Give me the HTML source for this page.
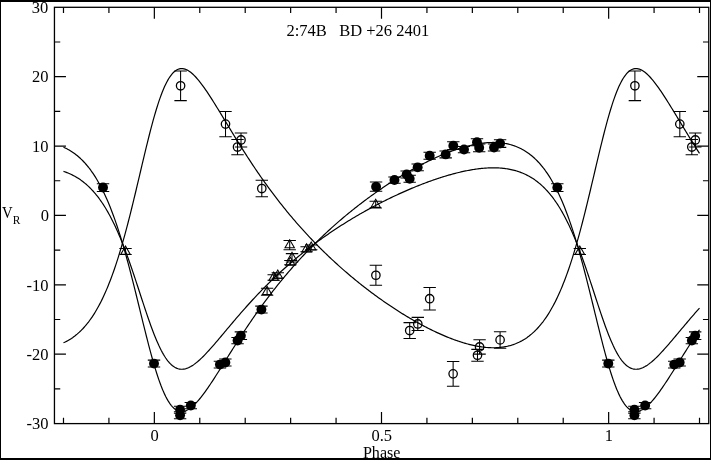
<!DOCTYPE html>
<html><head><meta charset="utf-8"><title>2:74B BD +26 2401</title>
<style>
html,body{margin:0;padding:0;background:#fff;}
body{width:711px;height:460px;position:relative;overflow:hidden;font-family:"Liberation Serif",serif;}
.b{position:absolute;background:#000;}
</style></head><body>
<svg width="711" height="460" viewBox="0 0 711 460" style="position:absolute;left:0;top:0">
<rect x="54.45" y="7.30" width="654.30" height="416.30" fill="none" stroke="#000" stroke-width="1.3"/>
<path d="M63.49,7.30 v5.80 M63.49,423.60 v-5.80 M108.92,7.30 v5.80 M108.92,423.60 v-5.80 M154.35,7.30 v11.50 M154.35,423.60 v-11.50 M199.78,7.30 v5.80 M199.78,423.60 v-5.80 M245.21,7.30 v5.80 M245.21,423.60 v-5.80 M290.64,7.30 v5.80 M290.64,423.60 v-5.80 M336.07,7.30 v5.80 M336.07,423.60 v-5.80 M381.50,7.30 v11.50 M381.50,423.60 v-11.50 M426.93,7.30 v5.80 M426.93,423.60 v-5.80 M472.36,7.30 v5.80 M472.36,423.60 v-5.80 M517.79,7.30 v5.80 M517.79,423.60 v-5.80 M563.22,7.30 v5.80 M563.22,423.60 v-5.80 M608.65,7.30 v11.50 M608.65,423.60 v-11.50 M654.08,7.30 v5.80 M654.08,423.60 v-5.80 M699.51,7.30 v5.80 M699.51,423.60 v-5.80 M54.45,388.90 h5.80 M708.75,388.90 h-5.80 M54.45,354.21 h11.50 M708.75,354.21 h-11.50 M54.45,319.52 h5.80 M708.75,319.52 h-5.80 M54.45,284.83 h11.50 M708.75,284.83 h-11.50 M54.45,250.14 h5.80 M708.75,250.14 h-5.80 M54.45,215.45 h11.50 M708.75,215.45 h-11.50 M54.45,180.76 h5.80 M708.75,180.76 h-5.80 M54.45,146.07 h11.50 M708.75,146.07 h-11.50 M54.45,111.38 h5.80 M708.75,111.38 h-5.80 M54.45,76.69 h11.50 M708.75,76.69 h-11.50 M54.45,42.00 h5.80 M708.75,42.00 h-5.80" stroke="#000" stroke-width="1.2" fill="none"/>
<path d="M63.49,147.22 L64.63,147.72 L65.76,148.26 L66.90,148.83 L68.03,149.43 L69.17,150.07 L70.30,150.74 L71.44,151.45 L72.58,152.19 L73.71,152.98 L74.85,153.80 L75.98,154.67 L77.12,155.57 L78.25,156.52 L79.39,157.52 L80.53,158.56 L81.66,159.65 L82.80,160.78 L83.93,161.97 L85.07,163.21 L86.20,164.50 L87.34,165.85 L88.48,167.25 L89.61,168.71 L90.75,170.23 L91.88,171.82 L93.02,173.46 L94.16,175.17 L95.29,176.94 L96.43,178.79 L97.56,180.70 L98.70,182.69 L99.83,184.74 L100.97,186.88 L102.11,189.09 L103.24,191.37 L104.38,193.74 L105.51,196.19 L106.65,198.73 L107.78,201.34 L108.92,204.05 L110.06,206.84 L111.19,209.71 L112.33,212.68 L113.46,215.74 L114.60,218.89 L115.73,222.13 L116.87,225.46 L118.01,228.89 L119.14,232.40 L120.28,236.01 L121.41,239.70 L122.55,243.49 L123.68,247.36 L124.82,251.31 L125.96,255.35 L127.09,259.47 L128.23,263.66 L129.36,267.93 L130.50,272.26 L131.63,276.66 L132.77,281.11 L133.91,285.61 L135.04,290.16 L136.18,294.74 L137.31,299.36 L138.45,303.99 L139.59,308.64 L140.72,313.29 L141.86,317.93 L142.99,322.56 L144.13,327.16 L145.26,331.73 L146.40,336.24 L147.54,340.70 L148.67,345.09 L149.81,349.41 L150.94,353.63 L152.08,357.75 L153.21,361.76 L154.35,365.66 L155.49,369.42 L156.62,373.05 L157.76,376.54 L158.89,379.88 L160.03,383.06 L161.16,386.08 L162.30,388.93 L163.44,391.62 L164.57,394.13 L165.71,396.47 L166.84,398.63 L167.98,400.62 L169.11,402.43 L170.25,404.07 L171.39,405.53 L172.52,406.83 L173.66,407.95 L174.79,408.92 L175.93,409.72 L177.06,410.37 L178.20,410.87 L179.34,411.22 L180.47,411.43 L181.61,411.50 L182.74,411.45 L183.88,411.27 L185.02,410.97 L186.15,410.56 L187.29,410.04 L188.42,409.42 L189.56,408.70 L190.69,407.90 L191.83,407.00 L192.97,406.03 L194.10,404.98 L195.24,403.86 L196.37,402.67 L197.51,401.42 L198.64,400.12 L199.78,398.76 L200.92,397.35 L202.05,395.90 L203.19,394.40 L204.32,392.87 L205.46,391.30 L206.59,389.70 L207.73,388.07 L208.87,386.41 L210.00,384.73 L211.14,383.03 L212.27,381.31 L213.41,379.57 L214.54,377.82 L215.68,376.05 L216.82,374.28 L217.95,372.49 L219.09,370.70 L220.22,368.90 L221.36,367.10 L222.50,365.29 L223.63,363.48 L224.77,361.67 L225.90,359.86 L227.04,358.05 L228.17,356.24 L229.31,354.43 L230.45,352.63 L231.58,350.83 L232.72,349.03 L233.85,347.24 L234.99,345.46 L236.12,343.68 L237.26,341.91 L238.40,340.15 L239.53,338.39 L240.67,336.64 L241.80,334.90 L242.94,333.17 L244.07,331.45 L245.21,329.74 L246.35,328.03 L247.48,326.34 L248.62,324.65 L249.75,322.98 L250.89,321.31 L252.02,319.66 L253.16,318.02 L254.30,316.38 L255.43,314.76 L256.57,313.14 L257.70,311.54 L258.84,309.95 L259.97,308.37 L261.11,306.80 L262.25,305.24 L263.38,303.69 L264.52,302.15 L265.65,300.62 L266.79,299.10 L267.93,297.59 L269.06,296.09 L270.20,294.61 L271.33,293.13 L272.47,291.66 L273.60,290.21 L274.74,288.76 L275.88,287.32 L277.01,285.90 L278.15,284.48 L279.28,283.08 L280.42,281.68 L281.55,280.30 L282.69,278.92 L283.83,277.55 L284.96,276.20 L286.10,274.85 L287.23,273.51 L288.37,272.19 L289.50,270.87 L290.64,269.56 L291.78,268.26 L292.91,266.97 L294.05,265.68 L295.18,264.41 L296.32,263.15 L297.45,261.89 L298.59,260.64 L299.73,259.40 L300.86,258.17 L302.00,256.95 L303.13,255.74 L304.27,254.53 L305.40,253.34 L306.54,252.15 L307.68,250.97 L308.81,249.80 L309.95,248.63 L311.08,247.48 L312.22,246.33 L313.36,245.19 L314.49,244.05 L315.63,242.93 L316.76,241.81 L317.90,240.70 L319.03,239.59 L320.17,238.50 L321.31,237.41 L322.44,236.33 L323.58,235.25 L324.71,234.19 L325.85,233.12 L326.98,232.07 L328.12,231.02 L329.26,229.98 L330.39,228.95 L331.53,227.92 L332.66,226.90 L333.80,225.89 L334.93,224.88 L336.07,223.88 L337.21,222.89 L338.34,221.90 L339.48,220.92 L340.61,219.94 L341.75,218.97 L342.88,218.01 L344.02,217.05 L345.16,216.10 L346.29,215.16 L347.43,214.22 L348.56,213.28 L349.70,212.36 L350.83,211.44 L351.97,210.52 L353.11,209.61 L354.24,208.71 L355.38,207.81 L356.51,206.91 L357.65,206.03 L358.78,205.15 L359.92,204.27 L361.06,203.40 L362.19,202.53 L363.33,201.67 L364.46,200.82 L365.60,199.97 L366.74,199.13 L367.87,198.29 L369.01,197.46 L370.14,196.63 L371.28,195.81 L372.41,194.99 L373.55,194.18 L374.69,193.37 L375.82,192.57 L376.96,191.78 L378.09,190.98 L379.23,190.20 L380.36,189.42 L381.50,188.64 L382.64,187.87 L383.77,187.11 L384.91,186.35 L386.04,185.59 L387.18,184.84 L388.31,184.10 L389.45,183.36 L390.59,182.62 L391.72,181.89 L392.86,181.17 L393.99,180.45 L395.13,179.74 L396.26,179.03 L397.40,178.32 L398.54,177.62 L399.67,176.93 L400.81,176.24 L401.94,175.56 L403.08,174.88 L404.22,174.20 L405.35,173.54 L406.49,172.87 L407.62,172.22 L408.76,171.56 L409.89,170.92 L411.03,170.27 L412.17,169.64 L413.30,169.01 L414.44,168.38 L415.57,167.76 L416.71,167.14 L417.84,166.53 L418.98,165.93 L420.12,165.33 L421.25,164.74 L422.39,164.15 L423.52,163.57 L424.66,162.99 L425.79,162.42 L426.93,161.86 L428.07,161.30 L429.20,160.74 L430.34,160.20 L431.47,159.66 L432.61,159.12 L433.74,158.59 L434.88,158.07 L436.02,157.55 L437.15,157.04 L438.29,156.54 L439.42,156.04 L440.56,155.55 L441.69,155.07 L442.83,154.59 L443.97,154.12 L445.10,153.66 L446.24,153.20 L447.37,152.75 L448.51,152.31 L449.64,151.88 L450.78,151.45 L451.92,151.03 L453.05,150.62 L454.19,150.22 L455.32,149.82 L456.46,149.43 L457.60,149.06 L458.73,148.68 L459.87,148.32 L461.00,147.97 L462.14,147.63 L463.27,147.29 L464.41,146.96 L465.55,146.65 L466.68,146.34 L467.82,146.04 L468.95,145.76 L470.09,145.48 L471.22,145.21 L472.36,144.96 L473.50,144.71 L474.63,144.48 L475.77,144.25 L476.90,144.04 L478.04,143.84 L479.17,143.66 L480.31,143.48 L481.45,143.32 L482.58,143.17 L483.72,143.04 L484.85,142.91 L485.99,142.81 L487.12,142.71 L488.26,142.63 L489.40,142.57 L490.53,142.52 L491.67,142.49 L492.80,142.47 L493.94,142.47 L495.08,142.49 L496.21,142.52 L497.35,142.57 L498.48,142.64 L499.62,142.73 L500.75,142.84 L501.89,142.97 L503.03,143.12 L504.16,143.29 L505.30,143.48 L506.43,143.70 L507.57,143.94 L508.70,144.20 L509.84,144.48 L510.98,144.79 L512.11,145.13 L513.25,145.49 L514.38,145.88 L515.52,146.30 L516.65,146.74 L517.79,147.22 L518.93,147.72 L520.06,148.26 L521.20,148.83 L522.33,149.43 L523.47,150.07 L524.60,150.74 L525.74,151.45 L526.88,152.19 L528.01,152.98 L529.15,153.80 L530.28,154.67 L531.42,155.57 L532.55,156.52 L533.69,157.52 L534.83,158.56 L535.96,159.65 L537.10,160.78 L538.23,161.97 L539.37,163.21 L540.50,164.50 L541.64,165.85 L542.78,167.25 L543.91,168.71 L545.05,170.23 L546.18,171.82 L547.32,173.46 L548.46,175.17 L549.59,176.94 L550.73,178.79 L551.86,180.70 L553.00,182.69 L554.13,184.74 L555.27,186.88 L556.41,189.09 L557.54,191.37 L558.68,193.74 L559.81,196.19 L560.95,198.73 L562.08,201.34 L563.22,204.05 L564.36,206.84 L565.49,209.71 L566.63,212.68 L567.76,215.74 L568.90,218.89 L570.03,222.13 L571.17,225.46 L572.31,228.89 L573.44,232.40 L574.58,236.01 L575.71,239.70 L576.85,243.49 L577.98,247.36 L579.12,251.31 L580.26,255.35 L581.39,259.47 L582.53,263.66 L583.66,267.93 L584.80,272.26 L585.94,276.66 L587.07,281.11 L588.21,285.61 L589.34,290.16 L590.48,294.74 L591.61,299.36 L592.75,303.99 L593.89,308.64 L595.02,313.29 L596.16,317.93 L597.29,322.56 L598.43,327.16 L599.56,331.73 L600.70,336.24 L601.84,340.70 L602.97,345.09 L604.11,349.41 L605.24,353.63 L606.38,357.75 L607.51,361.76 L608.65,365.66 L609.79,369.42 L610.92,373.05 L612.06,376.54 L613.19,379.88 L614.33,383.06 L615.46,386.08 L616.60,388.93 L617.74,391.62 L618.87,394.13 L620.01,396.47 L621.14,398.63 L622.28,400.62 L623.41,402.43 L624.55,404.07 L625.69,405.53 L626.82,406.83 L627.96,407.95 L629.09,408.92 L630.23,409.72 L631.37,410.37 L632.50,410.87 L633.64,411.22 L634.77,411.43 L635.91,411.50 L637.04,411.45 L638.18,411.27 L639.32,410.97 L640.45,410.56 L641.59,410.04 L642.72,409.42 L643.86,408.70 L644.99,407.90 L646.13,407.00 L647.27,406.03 L648.40,404.98 L649.54,403.86 L650.67,402.67 L651.81,401.42 L652.94,400.12 L654.08,398.76 L655.22,397.35 L656.35,395.90 L657.49,394.40 L658.62,392.87 L659.76,391.30 L660.89,389.70 L662.03,388.07 L663.17,386.41 L664.30,384.73 L665.44,383.03 L666.57,381.31 L667.71,379.57 L668.84,377.82 L669.98,376.05 L671.12,374.28 L672.25,372.49 L673.39,370.70 L674.52,368.90 L675.66,367.10 L676.80,365.29 L677.93,363.48 L679.07,361.67 L680.20,359.86 L681.34,358.05 L682.47,356.24 L683.61,354.43 L684.75,352.63 L685.88,350.83 L687.02,349.03 L688.15,347.24 L689.29,345.46 L690.42,343.68 L691.56,341.91 L692.70,340.15 L693.83,338.39 L694.97,336.64 L696.10,334.90 L697.24,333.17 L698.37,331.45 L699.51,329.74" stroke="#000" stroke-width="1.2" fill="none" stroke-linejoin="round"/>
<path d="M63.49,342.82 L64.63,342.30 L65.76,341.74 L66.90,341.15 L68.03,340.52 L69.17,339.86 L70.30,339.16 L71.44,338.43 L72.58,337.66 L73.71,336.84 L74.85,335.99 L75.98,335.09 L77.12,334.15 L78.25,333.16 L79.39,332.13 L80.53,331.05 L81.66,329.92 L82.80,328.74 L83.93,327.51 L85.07,326.22 L86.20,324.88 L87.34,323.49 L88.48,322.03 L89.61,320.51 L90.75,318.94 L91.88,317.29 L93.02,315.59 L94.16,313.81 L95.29,311.97 L96.43,310.06 L97.56,308.07 L98.70,306.01 L99.83,303.88 L100.97,301.67 L102.11,299.37 L103.24,297.00 L104.38,294.54 L105.51,292.00 L106.65,289.37 L107.78,286.66 L108.92,283.85 L110.06,280.95 L111.19,277.97 L112.33,274.89 L113.46,271.71 L114.60,268.45 L115.73,265.08 L116.87,261.63 L118.01,258.07 L119.14,254.43 L120.28,250.68 L121.41,246.85 L122.55,242.92 L123.68,238.91 L124.82,234.80 L125.96,230.61 L127.09,226.34 L128.23,221.99 L129.36,217.56 L130.50,213.07 L131.63,208.51 L132.77,203.89 L133.91,199.21 L135.04,194.49 L136.18,189.74 L137.31,184.95 L138.45,180.14 L139.59,175.32 L140.72,170.49 L141.86,165.67 L142.99,160.87 L144.13,156.10 L145.26,151.36 L146.40,146.67 L147.54,142.04 L148.67,137.49 L149.81,133.01 L150.94,128.63 L152.08,124.36 L153.21,120.19 L154.35,116.15 L155.49,112.24 L156.62,108.48 L157.76,104.86 L158.89,101.40 L160.03,98.09 L161.16,94.96 L162.30,92.00 L163.44,89.21 L164.57,86.61 L165.71,84.18 L166.84,81.94 L167.98,79.87 L169.11,77.99 L170.25,76.30 L171.39,74.78 L172.52,73.43 L173.66,72.26 L174.79,71.26 L175.93,70.43 L177.06,69.76 L178.20,69.24 L179.34,68.88 L180.47,68.66 L181.61,68.58 L182.74,68.64 L183.88,68.82 L185.02,69.13 L186.15,69.56 L187.29,70.10 L188.42,70.74 L189.56,71.48 L190.69,72.32 L191.83,73.25 L192.97,74.26 L194.10,75.35 L195.24,76.51 L196.37,77.74 L197.51,79.04 L198.64,80.39 L199.78,81.80 L200.92,83.27 L202.05,84.77 L203.19,86.33 L204.32,87.92 L205.46,89.54 L206.59,91.21 L207.73,92.90 L208.87,94.62 L210.00,96.36 L211.14,98.12 L212.27,99.91 L213.41,101.71 L214.54,103.53 L215.68,105.36 L216.82,107.20 L217.95,109.06 L219.09,110.92 L220.22,112.78 L221.36,114.66 L222.50,116.53 L223.63,118.41 L224.77,120.29 L225.90,122.17 L227.04,124.05 L228.17,125.93 L229.31,127.80 L230.45,129.67 L231.58,131.54 L232.72,133.40 L233.85,135.26 L234.99,137.11 L236.12,138.95 L237.26,140.79 L238.40,142.62 L239.53,144.44 L240.67,146.26 L241.80,148.06 L242.94,149.86 L244.07,151.65 L245.21,153.42 L246.35,155.19 L247.48,156.95 L248.62,158.70 L249.75,160.44 L250.89,162.16 L252.02,163.88 L253.16,165.59 L254.30,167.28 L255.43,168.97 L256.57,170.64 L257.70,172.31 L258.84,173.96 L259.97,175.60 L261.11,177.23 L262.25,178.85 L263.38,180.46 L264.52,182.06 L265.65,183.64 L266.79,185.22 L267.93,186.78 L269.06,188.34 L270.20,189.88 L271.33,191.41 L272.47,192.93 L273.60,194.44 L274.74,195.94 L275.88,197.43 L277.01,198.91 L278.15,200.38 L279.28,201.84 L280.42,203.29 L281.55,204.73 L282.69,206.15 L283.83,207.57 L284.96,208.98 L286.10,210.38 L287.23,211.77 L288.37,213.14 L289.50,214.51 L290.64,215.87 L291.78,217.22 L292.91,218.56 L294.05,219.89 L295.18,221.21 L296.32,222.52 L297.45,223.83 L298.59,225.12 L299.73,226.41 L300.86,227.68 L302.00,228.95 L303.13,230.21 L304.27,231.46 L305.40,232.70 L306.54,233.93 L307.68,235.16 L308.81,236.38 L309.95,237.58 L311.08,238.78 L312.22,239.98 L313.36,241.16 L314.49,242.34 L315.63,243.50 L316.76,244.66 L317.90,245.82 L319.03,246.96 L320.17,248.10 L321.31,249.23 L322.44,250.35 L323.58,251.47 L324.71,252.58 L325.85,253.68 L326.98,254.77 L328.12,255.86 L329.26,256.94 L330.39,258.01 L331.53,259.07 L332.66,260.13 L333.80,261.18 L334.93,262.23 L336.07,263.27 L337.21,264.30 L338.34,265.33 L339.48,266.34 L340.61,267.36 L341.75,268.36 L342.88,269.36 L344.02,270.35 L345.16,271.34 L346.29,272.32 L347.43,273.30 L348.56,274.26 L349.70,275.23 L350.83,276.18 L351.97,277.13 L353.11,278.08 L354.24,279.02 L355.38,279.95 L356.51,280.87 L357.65,281.79 L358.78,282.71 L359.92,283.62 L361.06,284.52 L362.19,285.42 L363.33,286.31 L364.46,287.20 L365.60,288.08 L366.74,288.95 L367.87,289.82 L369.01,290.69 L370.14,291.55 L371.28,292.40 L372.41,293.25 L373.55,294.09 L374.69,294.93 L375.82,295.76 L376.96,296.58 L378.09,297.40 L379.23,298.22 L380.36,299.03 L381.50,299.83 L382.64,300.63 L383.77,301.43 L384.91,302.22 L386.04,303.00 L387.18,303.78 L388.31,304.55 L389.45,305.32 L390.59,306.08 L391.72,306.84 L392.86,307.59 L393.99,308.34 L395.13,309.08 L396.26,309.81 L397.40,310.54 L398.54,311.27 L399.67,311.99 L400.81,312.70 L401.94,313.41 L403.08,314.12 L404.22,314.82 L405.35,315.51 L406.49,316.20 L407.62,316.88 L408.76,317.56 L409.89,318.23 L411.03,318.89 L412.17,319.56 L413.30,320.21 L414.44,320.86 L415.57,321.50 L416.71,322.14 L417.84,322.78 L418.98,323.40 L420.12,324.02 L421.25,324.64 L422.39,325.25 L423.52,325.85 L424.66,326.45 L425.79,327.04 L426.93,327.63 L428.07,328.21 L429.20,328.78 L430.34,329.35 L431.47,329.91 L432.61,330.47 L433.74,331.02 L434.88,331.56 L436.02,332.09 L437.15,332.62 L438.29,333.15 L439.42,333.66 L440.56,334.17 L441.69,334.67 L442.83,335.17 L443.97,335.66 L445.10,336.14 L446.24,336.61 L447.37,337.08 L448.51,337.53 L449.64,337.98 L450.78,338.43 L451.92,338.86 L453.05,339.29 L454.19,339.71 L455.32,340.12 L456.46,340.52 L457.60,340.91 L458.73,341.30 L459.87,341.67 L461.00,342.04 L462.14,342.40 L463.27,342.74 L464.41,343.08 L465.55,343.41 L466.68,343.73 L467.82,344.04 L468.95,344.34 L470.09,344.62 L471.22,344.90 L472.36,345.17 L473.50,345.42 L474.63,345.66 L475.77,345.89 L476.90,346.11 L478.04,346.32 L479.17,346.51 L480.31,346.69 L481.45,346.86 L482.58,347.02 L483.72,347.16 L484.85,347.28 L485.99,347.40 L487.12,347.49 L488.26,347.58 L489.40,347.64 L490.53,347.69 L491.67,347.73 L492.80,347.74 L493.94,347.75 L495.08,347.73 L496.21,347.69 L497.35,347.64 L498.48,347.56 L499.62,347.47 L500.75,347.36 L501.89,347.22 L503.03,347.07 L504.16,346.89 L505.30,346.69 L506.43,346.47 L507.57,346.22 L508.70,345.95 L509.84,345.66 L510.98,345.34 L512.11,344.99 L513.25,344.61 L514.38,344.21 L515.52,343.78 L516.65,343.31 L517.79,342.82 L518.93,342.30 L520.06,341.74 L521.20,341.15 L522.33,340.52 L523.47,339.86 L524.60,339.16 L525.74,338.43 L526.88,337.66 L528.01,336.84 L529.15,335.99 L530.28,335.09 L531.42,334.15 L532.55,333.16 L533.69,332.13 L534.83,331.05 L535.96,329.92 L537.10,328.74 L538.23,327.51 L539.37,326.22 L540.50,324.88 L541.64,323.49 L542.78,322.03 L543.91,320.51 L545.05,318.94 L546.18,317.29 L547.32,315.59 L548.46,313.81 L549.59,311.97 L550.73,310.06 L551.86,308.07 L553.00,306.01 L554.13,303.88 L555.27,301.67 L556.41,299.37 L557.54,297.00 L558.68,294.54 L559.81,292.00 L560.95,289.37 L562.08,286.66 L563.22,283.85 L564.36,280.95 L565.49,277.97 L566.63,274.89 L567.76,271.71 L568.90,268.45 L570.03,265.08 L571.17,261.63 L572.31,258.07 L573.44,254.43 L574.58,250.68 L575.71,246.85 L576.85,242.92 L577.98,238.91 L579.12,234.80 L580.26,230.61 L581.39,226.34 L582.53,221.99 L583.66,217.56 L584.80,213.07 L585.94,208.51 L587.07,203.89 L588.21,199.21 L589.34,194.49 L590.48,189.74 L591.61,184.95 L592.75,180.14 L593.89,175.32 L595.02,170.49 L596.16,165.67 L597.29,160.87 L598.43,156.10 L599.56,151.36 L600.70,146.67 L601.84,142.04 L602.97,137.49 L604.11,133.01 L605.24,128.63 L606.38,124.36 L607.51,120.19 L608.65,116.15 L609.79,112.24 L610.92,108.48 L612.06,104.86 L613.19,101.40 L614.33,98.09 L615.46,94.96 L616.60,92.00 L617.74,89.21 L618.87,86.61 L620.01,84.18 L621.14,81.94 L622.28,79.87 L623.41,77.99 L624.55,76.30 L625.69,74.78 L626.82,73.43 L627.96,72.26 L629.09,71.26 L630.23,70.43 L631.37,69.76 L632.50,69.24 L633.64,68.88 L634.77,68.66 L635.91,68.58 L637.04,68.64 L638.18,68.82 L639.32,69.13 L640.45,69.56 L641.59,70.10 L642.72,70.74 L643.86,71.48 L644.99,72.32 L646.13,73.25 L647.27,74.26 L648.40,75.35 L649.54,76.51 L650.67,77.74 L651.81,79.04 L652.94,80.39 L654.08,81.80 L655.22,83.27 L656.35,84.77 L657.49,86.33 L658.62,87.92 L659.76,89.54 L660.89,91.21 L662.03,92.90 L663.17,94.62 L664.30,96.36 L665.44,98.12 L666.57,99.91 L667.71,101.71 L668.84,103.53 L669.98,105.36 L671.12,107.20 L672.25,109.06 L673.39,110.92 L674.52,112.78 L675.66,114.66 L676.80,116.53 L677.93,118.41 L679.07,120.29 L680.20,122.17 L681.34,124.05 L682.47,125.93 L683.61,127.80 L684.75,129.67 L685.88,131.54 L687.02,133.40 L688.15,135.26 L689.29,137.11 L690.42,138.95 L691.56,140.79 L692.70,142.62 L693.83,144.44 L694.97,146.26 L696.10,148.06 L697.24,149.86 L698.37,151.65 L699.51,153.42" stroke="#000" stroke-width="1.2" fill="none" stroke-linejoin="round"/>
<path d="M63.49,171.38 L64.63,171.76 L65.76,172.16 L66.90,172.59 L68.03,173.04 L69.17,173.51 L70.30,174.02 L71.44,174.55 L72.58,175.11 L73.71,175.69 L74.85,176.31 L75.98,176.96 L77.12,177.64 L78.25,178.35 L79.39,179.09 L80.53,179.87 L81.66,180.69 L82.80,181.54 L83.93,182.43 L85.07,183.35 L86.20,184.32 L87.34,185.33 L88.48,186.38 L89.61,187.47 L90.75,188.61 L91.88,189.80 L93.02,191.03 L94.16,192.31 L95.29,193.64 L96.43,195.02 L97.56,196.45 L98.70,197.94 L99.83,199.48 L100.97,201.07 L102.11,202.73 L103.24,204.44 L104.38,206.22 L105.51,208.05 L106.65,209.95 L107.78,211.91 L108.92,213.93 L110.06,216.02 L111.19,218.17 L112.33,220.40 L113.46,222.69 L114.60,225.04 L115.73,227.47 L116.87,229.97 L118.01,232.53 L119.14,235.16 L120.28,237.86 L121.41,240.63 L122.55,243.46 L123.68,246.36 L124.82,249.32 L125.96,252.34 L127.09,255.43 L128.23,258.57 L129.36,261.76 L130.50,265.00 L131.63,268.29 L132.77,271.63 L133.91,275.00 L135.04,278.40 L136.18,281.84 L137.31,285.29 L138.45,288.76 L139.59,292.24 L140.72,295.72 L141.86,299.20 L142.99,302.67 L144.13,306.11 L145.26,309.53 L146.40,312.91 L147.54,316.25 L148.67,319.54 L149.81,322.77 L150.94,325.93 L152.08,329.01 L153.21,332.02 L154.35,334.93 L155.49,337.75 L156.62,340.47 L157.76,343.08 L158.89,345.58 L160.03,347.96 L161.16,350.22 L162.30,352.36 L163.44,354.37 L164.57,356.25 L165.71,358.00 L166.84,359.62 L167.98,361.11 L169.11,362.47 L170.25,363.69 L171.39,364.79 L172.52,365.76 L173.66,366.60 L174.79,367.32 L175.93,367.92 L177.06,368.41 L178.20,368.78 L179.34,369.04 L180.47,369.20 L181.61,369.26 L182.74,369.22 L183.88,369.08 L185.02,368.86 L186.15,368.55 L187.29,368.16 L188.42,367.70 L189.56,367.16 L190.69,366.56 L191.83,365.89 L192.97,365.16 L194.10,364.37 L195.24,363.53 L196.37,362.65 L197.51,361.71 L198.64,360.73 L199.78,359.72 L200.92,358.66 L202.05,357.57 L203.19,356.45 L204.32,355.31 L205.46,354.13 L206.59,352.93 L207.73,351.71 L208.87,350.47 L210.00,349.21 L211.14,347.94 L212.27,346.65 L213.41,345.35 L214.54,344.04 L215.68,342.72 L216.82,341.39 L217.95,340.05 L219.09,338.71 L220.22,337.36 L221.36,336.01 L222.50,334.66 L223.63,333.30 L224.77,331.95 L225.90,330.59 L227.04,329.23 L228.17,327.88 L229.31,326.53 L230.45,325.18 L231.58,323.83 L232.72,322.49 L233.85,321.15 L234.99,319.81 L236.12,318.48 L237.26,317.15 L238.40,315.83 L239.53,314.52 L240.67,313.21 L241.80,311.91 L242.94,310.61 L244.07,309.32 L245.21,308.04 L246.35,306.76 L247.48,305.49 L248.62,304.23 L249.75,302.98 L250.89,301.73 L252.02,300.49 L253.16,299.26 L254.30,298.04 L255.43,296.82 L256.57,295.61 L257.70,294.41 L258.84,293.22 L259.97,292.04 L261.11,290.86 L262.25,289.69 L263.38,288.53 L264.52,287.38 L265.65,286.23 L266.79,285.10 L267.93,283.97 L269.06,282.85 L270.20,281.73 L271.33,280.63 L272.47,279.53 L273.60,278.44 L274.74,277.36 L275.88,276.28 L277.01,275.22 L278.15,274.16 L279.28,273.10 L280.42,272.06 L281.55,271.02 L282.69,269.99 L283.83,268.97 L284.96,267.95 L286.10,266.94 L287.23,265.94 L288.37,264.95 L289.50,263.96 L290.64,262.98 L291.78,262.01 L292.91,261.04 L294.05,260.08 L295.18,259.13 L296.32,258.18 L297.45,257.24 L298.59,256.31 L299.73,255.38 L300.86,254.46 L302.00,253.54 L303.13,252.63 L304.27,251.73 L305.40,250.84 L306.54,249.95 L307.68,249.06 L308.81,248.19 L309.95,247.31 L311.08,246.45 L312.22,245.59 L313.36,244.73 L314.49,243.88 L315.63,243.04 L316.76,242.20 L317.90,241.37 L319.03,240.55 L320.17,239.73 L321.31,238.91 L322.44,238.10 L323.58,237.30 L324.71,236.50 L325.85,235.70 L326.98,234.91 L328.12,234.13 L329.26,233.35 L330.39,232.58 L331.53,231.81 L332.66,231.04 L333.80,230.28 L334.93,229.53 L336.07,228.78 L337.21,228.04 L338.34,227.30 L339.48,226.56 L340.61,225.83 L341.75,225.11 L342.88,224.38 L344.02,223.67 L345.16,222.96 L346.29,222.25 L347.43,221.54 L348.56,220.85 L349.70,220.15 L350.83,219.46 L351.97,218.78 L353.11,218.10 L354.24,217.42 L355.38,216.75 L356.51,216.08 L357.65,215.41 L358.78,214.75 L359.92,214.10 L361.06,213.44 L362.19,212.80 L363.33,212.15 L364.46,211.51 L365.60,210.88 L366.74,210.25 L367.87,209.62 L369.01,209.00 L370.14,208.38 L371.28,207.76 L372.41,207.15 L373.55,206.54 L374.69,205.94 L375.82,205.34 L376.96,204.74 L378.09,204.15 L379.23,203.56 L380.36,202.98 L381.50,202.40 L382.64,201.82 L383.77,201.25 L384.91,200.68 L386.04,200.11 L387.18,199.55 L388.31,198.99 L389.45,198.44 L390.59,197.89 L391.72,197.34 L392.86,196.80 L393.99,196.26 L395.13,195.73 L396.26,195.20 L397.40,194.67 L398.54,194.15 L399.67,193.63 L400.81,193.11 L401.94,192.60 L403.08,192.09 L404.22,191.59 L405.35,191.09 L406.49,190.59 L407.62,190.10 L408.76,189.61 L409.89,189.12 L411.03,188.64 L412.17,188.17 L413.30,187.69 L414.44,187.22 L415.57,186.76 L416.71,186.30 L417.84,185.84 L418.98,185.39 L420.12,184.94 L421.25,184.50 L422.39,184.06 L423.52,183.62 L424.66,183.19 L425.79,182.76 L426.93,182.34 L428.07,181.92 L429.20,181.51 L430.34,181.10 L431.47,180.69 L432.61,180.29 L433.74,179.90 L434.88,179.51 L436.02,179.12 L437.15,178.74 L438.29,178.36 L439.42,177.99 L440.56,177.62 L441.69,177.26 L442.83,176.90 L443.97,176.55 L445.10,176.20 L446.24,175.86 L447.37,175.53 L448.51,175.19 L449.64,174.87 L450.78,174.55 L451.92,174.24 L453.05,173.93 L454.19,173.63 L455.32,173.33 L456.46,173.04 L457.60,172.76 L458.73,172.48 L459.87,172.21 L461.00,171.94 L462.14,171.69 L463.27,171.43 L464.41,171.19 L465.55,170.95 L466.68,170.72 L467.82,170.50 L468.95,170.29 L470.09,170.08 L471.22,169.88 L472.36,169.69 L473.50,169.50 L474.63,169.33 L475.77,169.16 L476.90,169.00 L478.04,168.85 L479.17,168.71 L480.31,168.58 L481.45,168.46 L482.58,168.35 L483.72,168.25 L484.85,168.16 L485.99,168.08 L487.12,168.01 L488.26,167.95 L489.40,167.90 L490.53,167.86 L491.67,167.84 L492.80,167.83 L493.94,167.83 L495.08,167.84 L496.21,167.86 L497.35,167.90 L498.48,167.96 L499.62,168.02 L500.75,168.11 L501.89,168.20 L503.03,168.31 L504.16,168.44 L505.30,168.59 L506.43,168.75 L507.57,168.92 L508.70,169.12 L509.84,169.33 L510.98,169.56 L512.11,169.82 L513.25,170.09 L514.38,170.38 L515.52,170.69 L516.65,171.02 L517.79,171.38 L518.93,171.76 L520.06,172.16 L521.20,172.59 L522.33,173.04 L523.47,173.51 L524.60,174.02 L525.74,174.55 L526.88,175.11 L528.01,175.69 L529.15,176.31 L530.28,176.96 L531.42,177.64 L532.55,178.35 L533.69,179.09 L534.83,179.87 L535.96,180.69 L537.10,181.54 L538.23,182.43 L539.37,183.35 L540.50,184.32 L541.64,185.33 L542.78,186.38 L543.91,187.47 L545.05,188.61 L546.18,189.80 L547.32,191.03 L548.46,192.31 L549.59,193.64 L550.73,195.02 L551.86,196.45 L553.00,197.94 L554.13,199.48 L555.27,201.07 L556.41,202.73 L557.54,204.44 L558.68,206.22 L559.81,208.05 L560.95,209.95 L562.08,211.91 L563.22,213.93 L564.36,216.02 L565.49,218.17 L566.63,220.40 L567.76,222.69 L568.90,225.04 L570.03,227.47 L571.17,229.97 L572.31,232.53 L573.44,235.16 L574.58,237.86 L575.71,240.63 L576.85,243.46 L577.98,246.36 L579.12,249.32 L580.26,252.34 L581.39,255.43 L582.53,258.57 L583.66,261.76 L584.80,265.00 L585.94,268.29 L587.07,271.63 L588.21,275.00 L589.34,278.40 L590.48,281.84 L591.61,285.29 L592.75,288.76 L593.89,292.24 L595.02,295.72 L596.16,299.20 L597.29,302.67 L598.43,306.11 L599.56,309.53 L600.70,312.91 L601.84,316.25 L602.97,319.54 L604.11,322.77 L605.24,325.93 L606.38,329.01 L607.51,332.02 L608.65,334.93 L609.79,337.75 L610.92,340.47 L612.06,343.08 L613.19,345.58 L614.33,347.96 L615.46,350.22 L616.60,352.36 L617.74,354.37 L618.87,356.25 L620.01,358.00 L621.14,359.62 L622.28,361.11 L623.41,362.47 L624.55,363.69 L625.69,364.79 L626.82,365.76 L627.96,366.60 L629.09,367.32 L630.23,367.92 L631.37,368.41 L632.50,368.78 L633.64,369.04 L634.77,369.20 L635.91,369.26 L637.04,369.22 L638.18,369.08 L639.32,368.86 L640.45,368.55 L641.59,368.16 L642.72,367.70 L643.86,367.16 L644.99,366.56 L646.13,365.89 L647.27,365.16 L648.40,364.37 L649.54,363.53 L650.67,362.65 L651.81,361.71 L652.94,360.73 L654.08,359.72 L655.22,358.66 L656.35,357.57 L657.49,356.45 L658.62,355.31 L659.76,354.13 L660.89,352.93 L662.03,351.71 L663.17,350.47 L664.30,349.21 L665.44,347.94 L666.57,346.65 L667.71,345.35 L668.84,344.04 L669.98,342.72 L671.12,341.39 L672.25,340.05 L673.39,338.71 L674.52,337.36 L675.66,336.01 L676.80,334.66 L677.93,333.30 L679.07,331.95 L680.20,330.59 L681.34,329.23 L682.47,327.88 L683.61,326.53 L684.75,325.18 L685.88,323.83 L687.02,322.49 L688.15,321.15 L689.29,319.81 L690.42,318.48 L691.56,317.15 L692.70,315.83 L693.83,314.52 L694.97,313.21 L696.10,311.91 L697.24,310.61 L698.37,309.32 L699.51,308.04" stroke="#000" stroke-width="1.2" fill="none" stroke-linejoin="round"/>
<path d="M557.32,183.67 V191.44 M551.12,183.67 h12.40 M551.12,191.44 h12.40 M103.02,183.67 V191.44 M96.82,183.67 h12.40 M96.82,191.44 h12.40 M154.00,360.11 V367.05 M147.80,360.11 h12.40 M147.80,367.05 h12.40 M608.30,360.11 V367.05 M602.10,360.11 h12.40 M602.10,367.05 h12.40 M180.09,406.25 V413.18 M173.89,406.25 h12.40 M173.89,413.18 h12.40 M634.39,406.25 V413.18 M628.19,406.25 h12.40 M628.19,413.18 h12.40 M180.09,411.80 V418.73 M173.89,411.80 h12.40 M173.89,418.73 h12.40 M634.39,411.80 V418.73 M628.19,411.80 h12.40 M628.19,418.73 h12.40 M190.82,402.43 V408.67 M184.62,402.43 h12.40 M184.62,408.67 h12.40 M645.12,402.43 V408.67 M638.92,402.43 h12.40 M638.92,408.67 h12.40 M219.92,361.15 V368.09 M213.72,361.15 h12.40 M213.72,368.09 h12.40 M674.22,361.15 V368.09 M668.02,361.15 h12.40 M668.02,368.09 h12.40 M225.37,359.07 V366.00 M219.17,359.07 h12.40 M219.17,366.00 h12.40 M679.67,359.07 V366.00 M673.47,359.07 h12.40 M673.47,366.00 h12.40 M237.56,337.42 V343.66 M231.36,337.42 h12.40 M231.36,343.66 h12.40 M691.86,337.42 V343.66 M685.66,337.42 h12.40 M685.66,343.66 h12.40 M240.87,331.87 V339.50 M234.67,331.87 h12.40 M234.67,339.50 h12.40 M695.17,331.87 V339.50 M688.97,331.87 h12.40 M688.97,339.50 h12.40 M261.42,306.13 V313.07 M255.22,306.13 h12.40 M255.22,313.07 h12.40 M376.07,182.08 V191.24 M369.87,182.08 h12.40 M369.87,191.24 h12.40 M394.48,176.94 V183.19 M388.28,176.94 h12.40 M388.28,183.19 h12.40 M406.67,171.05 V177.98 M400.47,171.05 h12.40 M400.47,177.98 h12.40 M409.67,175.21 V182.15 M403.47,175.21 h12.40 M403.47,182.15 h12.40 M417.67,163.90 V170.84 M411.47,163.90 h12.40 M411.47,170.84 h12.40 M429.67,152.31 V159.25 M423.47,152.31 h12.40 M423.47,159.25 h12.40 M445.67,150.93 V157.86 M439.47,150.93 h12.40 M439.47,157.86 h12.40 M453.31,141.84 V149.47 M447.11,141.84 h12.40 M447.11,149.47 h12.40 M464.04,146.42 V152.66 M457.84,146.42 h12.40 M457.84,152.66 h12.40 M476.99,138.72 V145.65 M470.79,138.72 h12.40 M470.79,145.65 h12.40 M479.18,144.06 V151.69 M472.98,144.06 h12.40 M472.98,151.69 h12.40 M494.04,144.06 V151.00 M487.84,144.06 h12.40 M487.84,151.00 h12.40 M500.09,139.76 V147.39 M493.89,139.76 h12.40 M493.89,147.39 h12.40 M180.59,70.93 V100.63 M174.39,70.93 h12.40 M174.39,100.63 h12.40 M634.89,70.93 V100.63 M628.69,70.93 h12.40 M628.69,100.63 h12.40 M225.51,111.45 V136.70 M219.31,111.45 h12.40 M219.31,136.70 h12.40 M679.81,111.45 V136.70 M673.61,111.45 h12.40 M673.61,136.70 h12.40 M241.01,133.03 V146.90 M234.81,133.03 h12.40 M234.81,146.90 h12.40 M695.31,133.03 V146.90 M689.11,133.03 h12.40 M689.11,146.90 h12.40 M237.51,139.41 V154.67 M231.31,139.41 h12.40 M231.31,154.67 h12.40 M691.81,139.41 V154.67 M685.61,139.41 h12.40 M685.61,154.67 h12.40 M261.79,180.34 V196.72 M255.59,180.34 h12.40 M255.59,196.72 h12.40 M375.89,265.33 V285.18 M369.69,265.33 h12.40 M369.69,285.18 h12.40 M429.67,287.40 V310.01 M423.47,287.40 h12.40 M423.47,310.01 h12.40 M417.80,317.37 V330.55 M411.60,317.37 h12.40 M411.60,330.55 h12.40 M409.71,322.64 V338.46 M403.51,322.64 h12.40 M403.51,338.46 h12.40 M453.13,361.43 V386.26 M446.93,361.43 h12.40 M446.93,386.26 h12.40 M479.58,339.71 V354.14 M473.38,339.71 h12.40 M473.38,354.14 h12.40 M477.49,349.35 V361.15 M471.29,349.35 h12.40 M471.29,361.15 h12.40 M500.09,331.66 V348.17 M493.89,331.66 h12.40 M493.89,348.17 h12.40 M579.82,248.47 V254.58 M573.62,248.47 h12.40 M573.62,254.58 h12.40 M125.52,248.47 V254.58 M119.32,248.47 h12.40 M119.32,254.58 h12.40 M267.10,288.30 V295.24 M260.90,288.30 h12.40 M260.90,295.24 h12.40 M273.70,274.77 V280.32 M267.50,274.77 h12.40 M267.50,280.32 h12.40 M277.79,272.69 V278.24 M271.59,272.69 h12.40 M271.59,278.24 h12.40 M289.70,240.57 V249.72 M283.50,240.57 h12.40 M283.50,249.72 h12.40 M292.02,253.61 V261.93 M285.82,253.61 h12.40 M285.82,261.93 h12.40 M290.38,260.55 V264.71 M284.18,260.55 h12.40 M284.18,264.71 h12.40 M306.61,246.81 V251.67 M300.41,246.81 h12.40 M300.41,251.67 h12.40 M311.20,244.94 V249.79 M305.00,244.94 h12.40 M305.00,249.79 h12.40 M375.71,201.32 V207.98 M369.51,201.32 h12.40 M369.51,207.98 h12.40" stroke="#000" stroke-width="1.05" fill="none"/>
<circle cx="557.32" cy="187.56" r="4.95" fill="#000"/>
<circle cx="103.02" cy="187.56" r="4.95" fill="#000"/>
<circle cx="154.00" cy="363.58" r="4.95" fill="#000"/>
<circle cx="608.30" cy="363.58" r="4.95" fill="#000"/>
<circle cx="180.09" cy="409.71" r="4.95" fill="#000"/>
<circle cx="634.39" cy="409.71" r="4.95" fill="#000"/>
<circle cx="180.09" cy="415.26" r="4.95" fill="#000"/>
<circle cx="634.39" cy="415.26" r="4.95" fill="#000"/>
<circle cx="190.82" cy="405.55" r="4.95" fill="#000"/>
<circle cx="645.12" cy="405.55" r="4.95" fill="#000"/>
<circle cx="219.92" cy="364.62" r="4.95" fill="#000"/>
<circle cx="674.22" cy="364.62" r="4.95" fill="#000"/>
<circle cx="225.37" cy="362.54" r="4.95" fill="#000"/>
<circle cx="679.67" cy="362.54" r="4.95" fill="#000"/>
<circle cx="237.56" cy="340.54" r="4.95" fill="#000"/>
<circle cx="691.86" cy="340.54" r="4.95" fill="#000"/>
<circle cx="240.87" cy="335.69" r="4.95" fill="#000"/>
<circle cx="695.17" cy="335.69" r="4.95" fill="#000"/>
<circle cx="261.42" cy="309.60" r="4.95" fill="#000"/>
<circle cx="376.07" cy="186.66" r="4.95" fill="#000"/>
<circle cx="394.48" cy="180.07" r="4.95" fill="#000"/>
<circle cx="406.67" cy="174.52" r="4.95" fill="#000"/>
<circle cx="409.67" cy="178.68" r="4.95" fill="#000"/>
<circle cx="417.67" cy="167.37" r="4.95" fill="#000"/>
<circle cx="429.67" cy="155.78" r="4.95" fill="#000"/>
<circle cx="445.67" cy="154.40" r="4.95" fill="#000"/>
<circle cx="453.31" cy="145.65" r="4.95" fill="#000"/>
<circle cx="464.04" cy="149.54" r="4.95" fill="#000"/>
<circle cx="476.99" cy="142.18" r="4.95" fill="#000"/>
<circle cx="479.18" cy="147.87" r="4.95" fill="#000"/>
<circle cx="494.04" cy="147.53" r="4.95" fill="#000"/>
<circle cx="500.09" cy="143.57" r="4.95" fill="#000"/>
<circle cx="180.59" cy="85.78" r="4.2" fill="none" stroke="#000" stroke-width="1.3"/>
<circle cx="634.89" cy="85.78" r="4.2" fill="none" stroke="#000" stroke-width="1.3"/>
<circle cx="225.51" cy="124.08" r="4.2" fill="none" stroke="#000" stroke-width="1.3"/>
<circle cx="679.81" cy="124.08" r="4.2" fill="none" stroke="#000" stroke-width="1.3"/>
<circle cx="241.01" cy="139.96" r="4.2" fill="none" stroke="#000" stroke-width="1.3"/>
<circle cx="695.31" cy="139.96" r="4.2" fill="none" stroke="#000" stroke-width="1.3"/>
<circle cx="237.51" cy="147.04" r="4.2" fill="none" stroke="#000" stroke-width="1.3"/>
<circle cx="691.81" cy="147.04" r="4.2" fill="none" stroke="#000" stroke-width="1.3"/>
<circle cx="261.79" cy="188.53" r="4.2" fill="none" stroke="#000" stroke-width="1.3"/>
<circle cx="375.89" cy="275.26" r="4.2" fill="none" stroke="#000" stroke-width="1.3"/>
<circle cx="429.67" cy="298.71" r="4.2" fill="none" stroke="#000" stroke-width="1.3"/>
<circle cx="417.80" cy="323.96" r="4.2" fill="none" stroke="#000" stroke-width="1.3"/>
<circle cx="409.71" cy="330.55" r="4.2" fill="none" stroke="#000" stroke-width="1.3"/>
<circle cx="453.13" cy="373.84" r="4.2" fill="none" stroke="#000" stroke-width="1.3"/>
<circle cx="479.58" cy="346.93" r="4.2" fill="none" stroke="#000" stroke-width="1.3"/>
<circle cx="477.49" cy="355.25" r="4.2" fill="none" stroke="#000" stroke-width="1.3"/>
<circle cx="500.09" cy="339.92" r="4.2" fill="none" stroke="#000" stroke-width="1.3"/>
<path d="M579.82,246.13 L575.12,254.23 L584.52,254.23 Z" fill="none" stroke="#000" stroke-width="1.05"/>
<path d="M125.52,246.13 L120.82,254.23 L130.22,254.23 Z" fill="none" stroke="#000" stroke-width="1.05"/>
<path d="M267.10,286.37 L262.40,294.47 L271.80,294.47 Z" fill="none" stroke="#000" stroke-width="1.05"/>
<path d="M273.70,272.15 L269.00,280.25 L278.40,280.25 Z" fill="none" stroke="#000" stroke-width="1.05"/>
<path d="M277.79,270.06 L273.09,278.16 L282.49,278.16 Z" fill="none" stroke="#000" stroke-width="1.05"/>
<path d="M289.70,239.74 L285.00,247.84 L294.40,247.84 Z" fill="none" stroke="#000" stroke-width="1.05"/>
<path d="M292.02,252.37 L287.32,260.47 L296.72,260.47 Z" fill="none" stroke="#000" stroke-width="1.05"/>
<path d="M290.38,257.23 L285.68,265.33 L295.08,265.33 Z" fill="none" stroke="#000" stroke-width="1.05"/>
<path d="M306.61,243.84 L301.91,251.94 L311.31,251.94 Z" fill="none" stroke="#000" stroke-width="1.05"/>
<path d="M311.20,241.96 L306.50,250.06 L315.90,250.06 Z" fill="none" stroke="#000" stroke-width="1.05"/>
<path d="M375.71,199.25 L371.01,207.35 L380.41,207.35 Z" fill="none" stroke="#000" stroke-width="1.05"/>
</svg>
<svg width="711" height="460" viewBox="0 0 711 460" style="filter:grayscale(1);position:absolute;left:0;top:0;font-family:'Liberation Serif',serif" fill="#000">
<text x="48.20" y="13.11" text-anchor="end" font-size="16.5">30</text>
<text x="48.60" y="82.49" text-anchor="end" font-size="16.5">20</text>
<text x="48.60" y="151.87" text-anchor="end" font-size="16.5">10</text>
<text x="49.10" y="221.25" text-anchor="end" font-size="16.5">0</text>
<text x="48.60" y="290.63" text-anchor="end" font-size="16.5">-10</text>
<text x="48.60" y="360.01" text-anchor="end" font-size="16.5">-20</text>
<text x="48.40" y="429.39" text-anchor="end" font-size="16.5">-30</text>
<text x="154.65" y="440.60" text-anchor="middle" font-size="16.5">0</text>
<text x="381.80" y="440.60" text-anchor="middle" font-size="16.5">0.5</text>
<text x="608.95" y="440.60" text-anchor="middle" font-size="16.5">1</text>
<text x="381.70" y="458.20" text-anchor="middle" font-size="16.1">Phase</text>
<text x="286.5" y="35.9" font-size="16.5" xml:space="preserve">2:74B   BD +26 2401</text>
<text x="1.9" y="217.8" font-size="15.8" textLength="10.6" lengthAdjust="spacingAndGlyphs">V</text><text x="12.8" y="223.9" font-size="12.4" textLength="7.6" lengthAdjust="spacingAndGlyphs">R</text>
</svg>
<div class="b" style="left:0;top:0;width:711px;height:2px"></div>
<div class="b" style="left:0;top:458px;width:711px;height:2px"></div>
<div class="b" style="left:0;top:0;width:1px;height:460px"></div>
<div class="b" style="left:710px;top:0;width:1px;height:460px"></div>
</body></html>
